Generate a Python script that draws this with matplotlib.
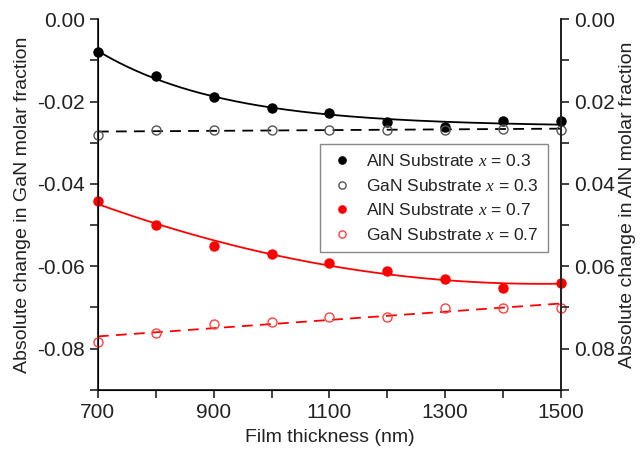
import numpy as np
import matplotlib.pyplot as plt

plt.rcParams['font.family'] = ['Liberation Sans', 'DejaVu Sans']
plt.rcParams['mathtext.fontset'] = 'custom'
plt.rcParams['mathtext.it'] = 'Liberation Serif:italic'
plt.rcParams['mathtext.rm'] = 'Liberation Sans'

# Data
thickness = [700, 800, 900, 1000, 1100, 1200, 1300, 1400, 1500]
aln_03 = [-0.0080, -0.0139, -0.0188, -0.0215, -0.0229, -0.0249, -0.0263, -0.0247, -0.0247]
gan_03 = [-0.0280, -0.0268, -0.0269, -0.0268, -0.0268, -0.0268, -0.0268, -0.0267, -0.0268]
aln_07 = [-0.0441, -0.0500, -0.0551, -0.0571, -0.0592, -0.0611, -0.0630, -0.0652, -0.0640]
gan_07 = [-0.0783, -0.0763, -0.0741, -0.0736, -0.0722, -0.0722, -0.0702, -0.0702, -0.0702]

x = np.array(thickness, dtype=float)
xs = np.linspace(700, 1500, 200)


def exp_fit(xv, yv, xn):
    # y = a + b*exp(-(x-700)/t), pick best t on a grid
    best = None
    for t in np.linspace(100, 1500, 300):
        A = np.column_stack([np.ones_like(xv), np.exp(-(xv - 700) / t)])
        coef, res, *_ = np.linalg.lstsq(A, yv, rcond=None)
        err = np.sum((A @ coef - yv) ** 2)
        if best is None or err < best[0]:
            best = (err, t, coef)
    _, t, coef = best
    return coef[0] + coef[1] * np.exp(-(xn - 700) / t)


fig = plt.figure(figsize=(6.44, 4.57), dpi=100)
ax = fig.add_axes([0.152, 0.147, 0.719, 0.811])

# fitted curves
ax.plot(xs, exp_fit(x, np.array(aln_03), xs), color='black', lw=1.3)
ax.plot(xs, np.polyval(np.polyfit(x, gan_03, 1), xs), color='black', lw=1.3, ls=(0, (6, 4)))
ax.plot(xs, np.polyval(np.polyfit(x, aln_07, 2), xs), color='red', lw=1.3)
ax.plot(xs, np.polyval(np.polyfit(x, gan_07, 1), xs), color='red', lw=1.3, ls=(0, (6, 4)))

# points
ax.plot(x, aln_03, 'o', color='black', ms=6.5, label='AlN Substrate $x$ = 0.3', clip_on=False, zorder=5)
ax.plot(x, gan_03, 'o', mfc='none', mec='#555555', ms=6.5, mew=1.0, label='GaN Substrate $x$ = 0.3', clip_on=False, zorder=5)
ax.plot(x, aln_07, 'o', color='red', ms=6.5, label='AlN Substrate $x$ = 0.7', clip_on=False, zorder=5)
ax.plot(x, gan_07, 'o', mfc='none', mec='#ff4040', ms=6.5, mew=1.0, label='GaN Substrate $x$ = 0.7', clip_on=False, zorder=5)

ax.set_xlim(700, 1500)
ax.set_ylim(-0.09, 0.0)
ax.set_xticks([700, 900, 1100, 1300, 1500])
ax.set_xticks([800, 1000, 1200, 1400], minor=True)
ax.set_yticks([0.0, -0.02, -0.04, -0.06, -0.08])
ax.set_yticks([-0.01, -0.03, -0.05, -0.07, -0.09], minor=True)
ax.set_yticklabels(['0.00', '-0.02', '-0.04', '-0.06', '-0.08'])
ax.tick_params(which='both', direction='out', labelsize=15, length=6, width=1.2, color='#222222',
               labelcolor='#222222')
ax.spines['top'].set_visible(False)
for s in ['left', 'bottom', 'right']:
    ax.spines[s].set_linewidth(1.3)
    ax.spines[s].set_color('#222222')
ax.set_xlabel('Film thickness (nm)', fontsize=14, labelpad=5, color='#222222')
ax.set_ylabel('Absolute change in GaN molar fraction', fontsize=14, labelpad=4, color='#222222')

ax2 = ax.twinx()
ax2.set_ylim(0.09, 0.0)
ax2.set_yticks([0.0, 0.02, 0.04, 0.06, 0.08])
ax2.set_yticks([0.01, 0.03, 0.05, 0.07, 0.09], minor=True)
ax2.set_yticklabels(['0.00', '0.02', '0.04', '0.06', '0.08'])
ax2.tick_params(which='both', direction='out', labelsize=15, length=6, width=1.2, color='#222222',
                labelcolor='#222222')
ax2.spines['top'].set_visible(False)
ax2.spines['right'].set_linewidth(1.3)
ax2.spines['right'].set_color('#222222')
ax2.set_ylabel('Absolute change in AlN molar fraction', fontsize=14, labelpad=3, color='#222222')

leg = ax.legend(loc='upper left', bbox_to_anchor=(0.46, 0.686), fontsize=12.5, frameon=True,
                fancybox=False, edgecolor='#888888', handletextpad=0.6, markerscale=0.8,
                borderpad=0.5, labelspacing=0.5, handlelength=1.6, framealpha=1)
leg.get_frame().set_linewidth(1.0)
for t in leg.get_texts():
    t.set_color('#222222')
leg.set_zorder(10)

fig.savefig('out.png', dpi=100)
